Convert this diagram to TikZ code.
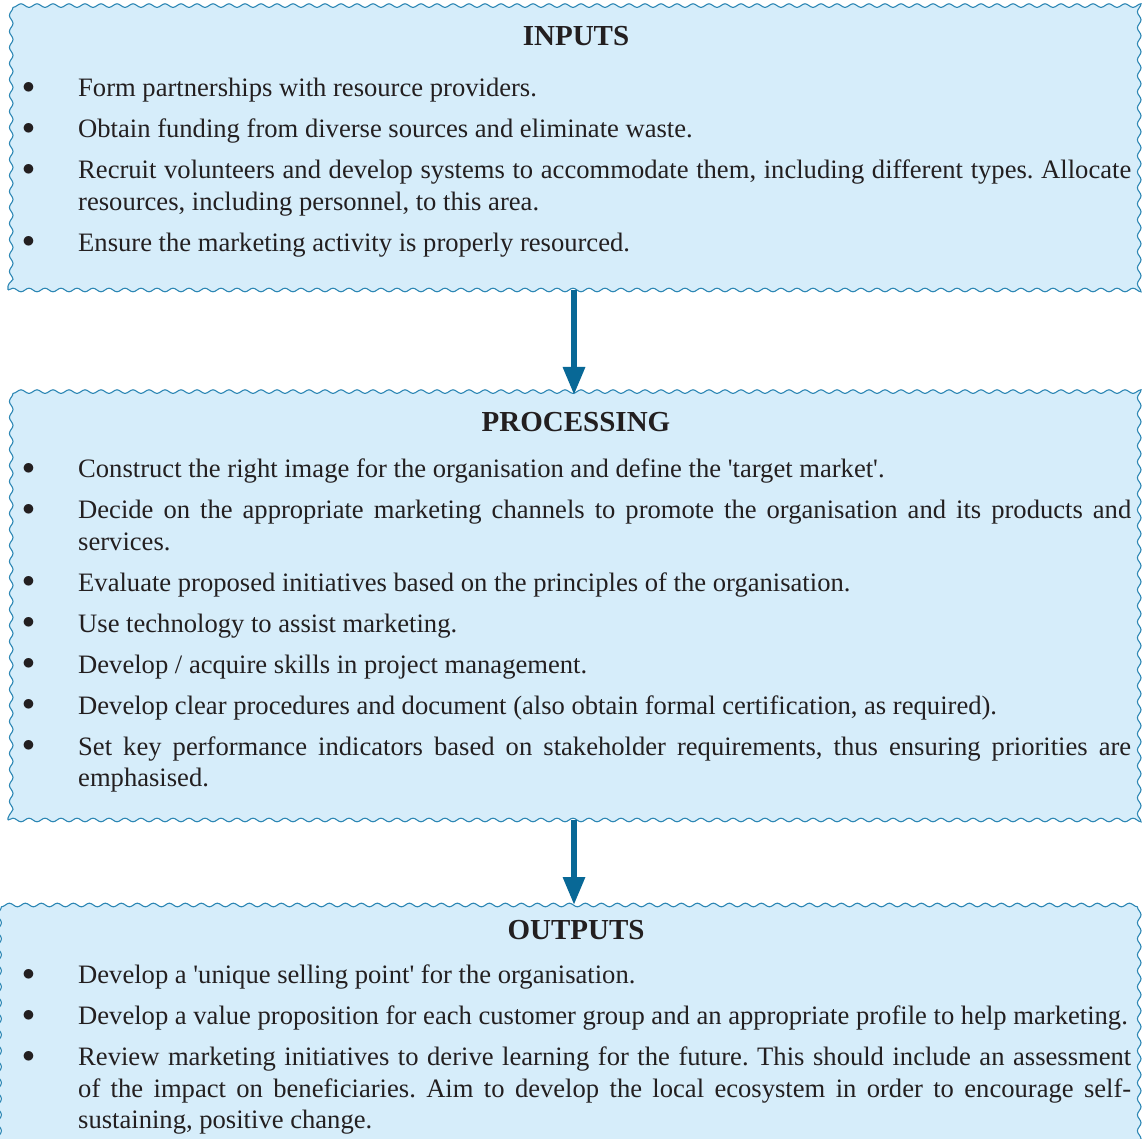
\documentclass[tikz,border=0pt]{standalone}
\usepackage{fontspec}
\setmainfont{Liberation Serif}
\usetikzlibrary{arrows.meta,decorations.pathmorphing}

\definecolor{panelfill}{RGB}{214,237,250}
\definecolor{panelline}{RGB}{45,135,180}
\definecolor{flowblue}{RGB}{8,104,150}
\definecolor{inktext}{RGB}{35,31,32}

\newenvironment{bulletlist}{%
  \frenchspacing
  \begin{list}{\raisebox{3.4pt}{$\bullet$}}{%
    \setlength{\leftmargin}{0pt}\setlength{\labelwidth}{0pt}%
    \setlength{\labelsep}{0pt}\setlength{\itemsep}{9.5pt}%
    \setlength{\parsep}{0pt}\setlength{\topsep}{0pt}%
    \setlength{\partopsep}{0pt}%
    \renewcommand{\makelabel}[1]{\strut\llap{##1\hspace{43.4pt}}}}}%
  {\end{list}}

\begin{document}
\begin{tikzpicture}[x=1pt,y=1pt]

      \useasboundingbox (0,0) rectangle (1143,-1139);

      % boxes
      \begin{scope}[every node/.style={draw=panelline,fill=panelfill,line width=1.1pt,
          decorate,decoration={snake,segment length=16pt,amplitude=1.8pt},
          anchor=north west,minimum width=1133pt,inner sep=0pt,outer sep=0pt}]
        \node[minimum height=282pt] (in)   at (8,-8)   {};
        \node[minimum height=425pt] (proc) at (8,-395) {};
        \node[minimum height=280pt] (out)  at (8,-905) {};
      \end{scope}

      % headings
      \begin{scope}[every node/.style={anchor=base,inner sep=0pt,text=inktext,
          font=\fontsize{29}{34}\selectfont\bfseries}]
        \node (inhead)   at (576,-46)  {INPUTS};
        \node (prochead) at (576,-431) {PROCESSING};
        \node (outhead)  at (576,-939) {OUTPUTS};
      \end{scope}

      % bullet lists (top of first strut = first baseline + 22.05)
      \begin{scope}[every node/.style={anchor=north west,inner sep=0pt,text=inktext,
          text width=1053pt,align=justify,font=\fontsize{26.6}{31.5}\selectfont}]
        \node (inlist) at (78,-64.95) {\begin{bulletlist}
          \item Form partnerships with resource providers.
          \item Obtain funding from diverse sources and eliminate waste.
          \item Recruit volunteers and develop systems to accommodate them, including different types. Allocate\linebreak
            resources, including personnel, to this area.
          \item Ensure the marketing activity is properly resourced.
          \end{bulletlist}};
        \node (proclist) at (78,-445.95) {\begin{bulletlist}
          \item Construct the right image for the organisation and define the \textquotesingle target market\textquotesingle.
          \item Decide on the appropriate marketing channels to promote the organisation and its products and\linebreak
            services.
          \item Evaluate proposed initiatives based on the principles of the organisation.
          \item Use technology to assist marketing.
          \item Develop / acquire skills in project management.
          \item Develop clear procedures and document (also obtain formal certification, as required).
          \item Set key performance indicators based on stakeholder requirements, thus ensuring priorities are\linebreak
            emphasised.
          \end{bulletlist}};
        \node (outlist) at (78,-951.95) {\begin{bulletlist}
          \item Develop a \textquotesingle unique selling point\textquotesingle\ for the organisation.
          \item Develop a value proposition for each customer group and an appropriate profile to help marketing.
          \item Review marketing initiatives to derive learning for the future. This should include an assessment\linebreak
            of the impact on beneficiaries. Aim to develop the local ecosystem in order to encourage self-\linebreak
            sustaining, positive change.
          \end{bulletlist}};
      \end{scope}

      % flow arrows
      \begin{scope}[every edge/.style={draw=flowblue,line width=6pt,
          -{Triangle[width=21pt,length=28pt]}}]
        \path (in.south -| 574,0) edge (proc.north -| 574,0);
        \path (proc.south -| 574,0) edge (out.north -| 574,0);
      \end{scope}

    \end{tikzpicture}
\end{document}
